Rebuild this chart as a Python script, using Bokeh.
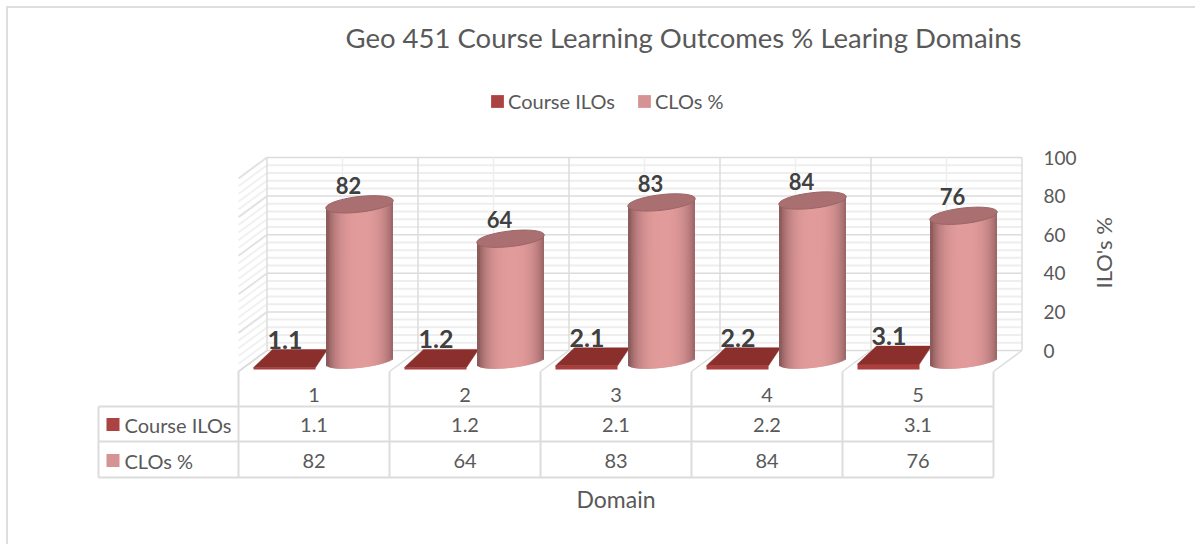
import math
from bokeh.embed import file_html
from bokeh.resources import INLINE
from bokeh.plotting import figure
from bokeh.models import FixedTicker, Legend, LegendItem, Range1d
from bokeh.core.properties import value

# ---- data ----
categories = [1, 2, 3, 4, 5]
course_ilos = [1.1, 1.2, 2.1, 2.2, 3.1]
clos_pct = [82, 64, 83, 84, 76]
series_names = ["Course ILOs", "CLOs %"]
y_ticks = [0, 20, 40, 60, 80, 100]
y_minor = [v for v in range(0, 101, 4) if v % 20]
title_text = "Geo 451 Course Learning Outcomes % Learing Domains"
x_title = "Domain"

# ---- layout constants (page pixels) ----
FONT = "Lato"
TXT = "#595959"
PX_X, PX_Y = 151.0, 1.93           # px per category / per value unit
X0, Y0 = 238.0, 350.0              # page px of category edge 0.5 (front) and value 0 (back wall)
DX, DY = 28.5, 21.0                # depth of the floor
F_L, F_R, F_T, F_B = 8, 1030, 60, 516


def xd(px):
    return 0.5 + (px - X0) / PX_X


def yd(py):
    return (Y0 - py) / PX_Y


p = figure(width=1189, height=538, output_backend="svg", toolbar_location=None,
           x_range=Range1d(xd(F_L), xd(F_R)), y_range=Range1d(yd(F_B), yd(F_T)),
           x_axis_location=None, y_axis_location="right", min_border_left=0, min_border_right=1197 - F_R,
           min_border_top=F_T - 8, min_border_bottom=546 - F_B,
           outline_line_color=None, background_fill_color=None, border_fill_color="white")
p.styles = {"margin": "8px 0 0 8px", "box-shadow": "-2px -2px 0 0 #dedede"}
p.grid.visible = False

p.title.text = title_text
p.title.text_font = FONT
p.title.text_font_size = "27.5px"
p.title.text_font_style = "normal"
p.title.text_color = TXT
p.title.align = "left"
p.title.offset = 337
p.title.standoff = 13

# ---- axis ----
ax = p.yaxis[0]
ax.ticker = FixedTicker(ticks=y_ticks)
ax.bounds = (0, 100)
ax.axis_line_color = None
ax.major_tick_line_color = None
ax.minor_tick_line_color = None
ax.major_tick_out = 0
ax.major_label_standoff = 13
ax.major_label_text_font = FONT
ax.major_label_text_font_size = "19px"
ax.major_label_text_color = TXT
ax.axis_label = "ILO's %"
ax.axis_label_text_font = FONT
ax.axis_label_text_font_style = "normal"
ax.axis_label_text_font_size = "22px"
ax.axis_label_text_color = TXT
ax.axis_label_standoff = 24
ax.axis_label_orientation = math.pi / 2

# ---- walls and floor ----
n = len(categories)
ddx, ddy = DX / PX_X, DY / PX_Y
back_l, back_r = 0.5 + ddx, n + 0.5 + ddx
GRID, MINOR, FAINT = "#dcdcdc", "#eeeeee", "#f1f1f1"

p.segment(x0=[back_l] * len(y_minor), x1=[back_r] * len(y_minor), y0=y_minor, y1=y_minor,
          line_color=MINOR, line_width=2)
p.segment(x0=[0.5] * len(y_minor), x1=[back_l] * len(y_minor), y0=[v - ddy for v in y_minor], y1=y_minor,
          line_color=FAINT, line_width=2)
p.segment(x0=[0.5] * len(y_ticks), x1=[back_l] * len(y_ticks), y0=[v - ddy for v in y_ticks], y1=y_ticks,
          line_color="#e2e2e2", line_width=2)
p.segment(x0=[back_l] * len(y_ticks), x1=[back_r] * len(y_ticks), y0=y_ticks, y1=y_ticks,
          line_color=GRID, line_width=1.5)
mid = [c + ddx for c in categories]
p.segment(x0=mid, x1=mid, y0=[0] * n, y1=[100] * n, line_color=MINOR, line_width=1.5)
edges = [c - 0.5 for c in categories] + [n + 0.5]
back_e = [e + ddx for e in edges]
p.segment(x0=back_e, x1=back_e, y0=[0] * (n + 1), y1=[100] * (n + 1), line_color=GRID, line_width=1.5)
p.segment(x0=edges, x1=back_e, y0=[-ddy] * (n + 1), y1=[0] * (n + 1), line_color=GRID, line_width=1.5)

# ---- table ----
row_lines = [yd(406), yd(441), yd(477)]
tbl_l = xd(98)
p.segment(x0=[tbl_l] * 3, x1=[n + 0.5] * 3, y0=row_lines, y1=row_lines, line_color=GRID, line_width=2)
p.segment(x0=edges, x1=edges, y0=[yd(477)] * (n + 1), y1=[yd(371)] * (n + 1), line_color=GRID, line_width=2)
p.segment(x0=[tbl_l], x1=[tbl_l], y0=[yd(477)], y1=[yd(406)], line_color=GRID, line_width=2)

rows_y = [yd(394.5), yd(424), yd(460)]
tkw = dict(text_font=value(FONT), text_font_size="20px", text_color=TXT,
           text_baseline="middle", text_align="center")
for yy, vals in zip(rows_y, (categories, course_ilos, clos_pct)):
    p.text(x=categories, y=[yy] * n, text=[f"{v:g}" for v in vals], **tkw)
p.text(x=[xd(124)] * 2, y=rows_y[1:], text=series_names, **{**tkw, "text_align": "left"})
p.text(x=[(n + 1) / 2], y=[yd(498)], text=[x_title], **{**tkw, "text_font_size": "23px"})

SWATCH = ["#ab4342", "#d59493"]
sw = p.rect(x=[xd(112.5)] * 2, y=rows_y[1:], width=13, height=13, width_units="screen",
            height_units="screen", fill_color=SWATCH, line_color=None)

# ---- Course ILOs: flat prisms on the floor ----
BASE_F = yd(369)      # front lower edge of the prism
ft_l, ft_r, bk_l, bk_r = -60.5 / PX_X, 1.5 / PX_X, -41.5 / PX_X, 13.5 / PX_X
back_rise = 18.0 / PX_Y
tops_x, tops_y, front_l, front_r, front_t = [], [], [], [], []
for c, v in zip(categories, course_ilos):
    h = BASE_F + v * 0.9
    tops_x.append([c + ft_l, c + ft_r, c + bk_r, c + bk_l])
    tops_y.append([h, h, h + back_rise, h + back_rise])
    front_l.append(c + ft_l)
    front_r.append(c + ft_r)
    front_t.append(h)
p.quad(left=front_l, right=front_r, bottom=[BASE_F] * n, top=front_t, fill_color="#ab3f3d", line_color=None)
p.patches(tops_x, tops_y, fill_color="#8a2f2c", line_color="#8a2f2c", line_width=0.5)

# ---- CLOs %: cylinders ----
CX = 45.5 / PX_X       # cylinder axis offset from category centre
RX = 33.5              # radius, px
RY = 6.8
SLOPE = 0.115          # right side sits higher than left
BASE_C = yd(360.5)
SCALE = 0.99
STRIPS = 44
EDGE = (0x8c, 0x5b, 0x5c)
MID = (0xe2, 0x9b, 0x9b)


def shade(u):
    t = max(0.0, 1 - abs(u - 0.04) ** 2.6 * 1.05)
    t = t ** 0.8
    return "#%02x%02x%02x" % tuple(round(a + (b - a) * t) for a, b in zip(EDGE, MID))


sl, sr, sb, st, sc = [], [], [], [], []
for c, v in zip(categories, clos_pct):
    w = (2 * RX / STRIPS) / PX_X
    for k in range(STRIPS):
        u = (k + 0.5) / STRIPS * 2 - 1
        dpx = u * RX
        sag = RY * math.sqrt(1 - u * u) / PX_Y
        rise = SLOPE * dpx / PX_Y
        cx = c + CX + dpx / PX_X
        sl.append(cx - w * 0.5)
        sr.append(cx + w * (1.5 if k < STRIPS - 1 else 0.5))
        sb.append(BASE_C + rise - sag)
        st.append(BASE_C + v * SCALE + rise)
        sc.append(shade(u))
p.quad(left=sl, right=sr, bottom=sb, top=st, fill_color=sc, line_color=None)
cyl_x = [c + CX for c in categories]
cyl_top = [BASE_C + v * SCALE for v in clos_pct]
p.ellipse(x=cyl_x, y=cyl_top, width=2 * RX + 1, height=2 * RY + 2, width_units="screen", height_units="screen",
          angle=SLOPE, fill_color="#aa7071", line_color="#9c6566", line_width=1)

# ---- data labels ----
lbl = dict(text_font=value(FONT), text_font_style="bold", text_color="#404040",
           text_align="center", text_baseline="middle")
p.text(x=[c + CX for c in categories], y=cyl_top, text=[f"{v:g}" for v in clos_pct],
       x_offset=-11, y_offset=-19, text_font_size="22px", **lbl)
p.text(x=categories, y=front_t, text=[f"{v:g}" for v in course_ilos], x_offset=-29, y_offset=-28,
       text_font_size="25px", **lbl)

# ---- legend ----
legend = Legend(items=[LegendItem(label=series_names[0], renderers=[sw], index=0),
                       LegendItem(label=series_names[1], renderers=[sw], index=1)],
                orientation="horizontal", location=(481, 403), spacing=21, padding=0, margin=0,
                glyph_width=16, glyph_height=16, label_standoff=3,
                border_line_color=None, background_fill_color=None,
                label_text_font=FONT, label_text_font_size="20px", label_text_color=TXT)
p.add_layout(legend, "center")

open("out.html", "w").write(file_html(p, INLINE))
